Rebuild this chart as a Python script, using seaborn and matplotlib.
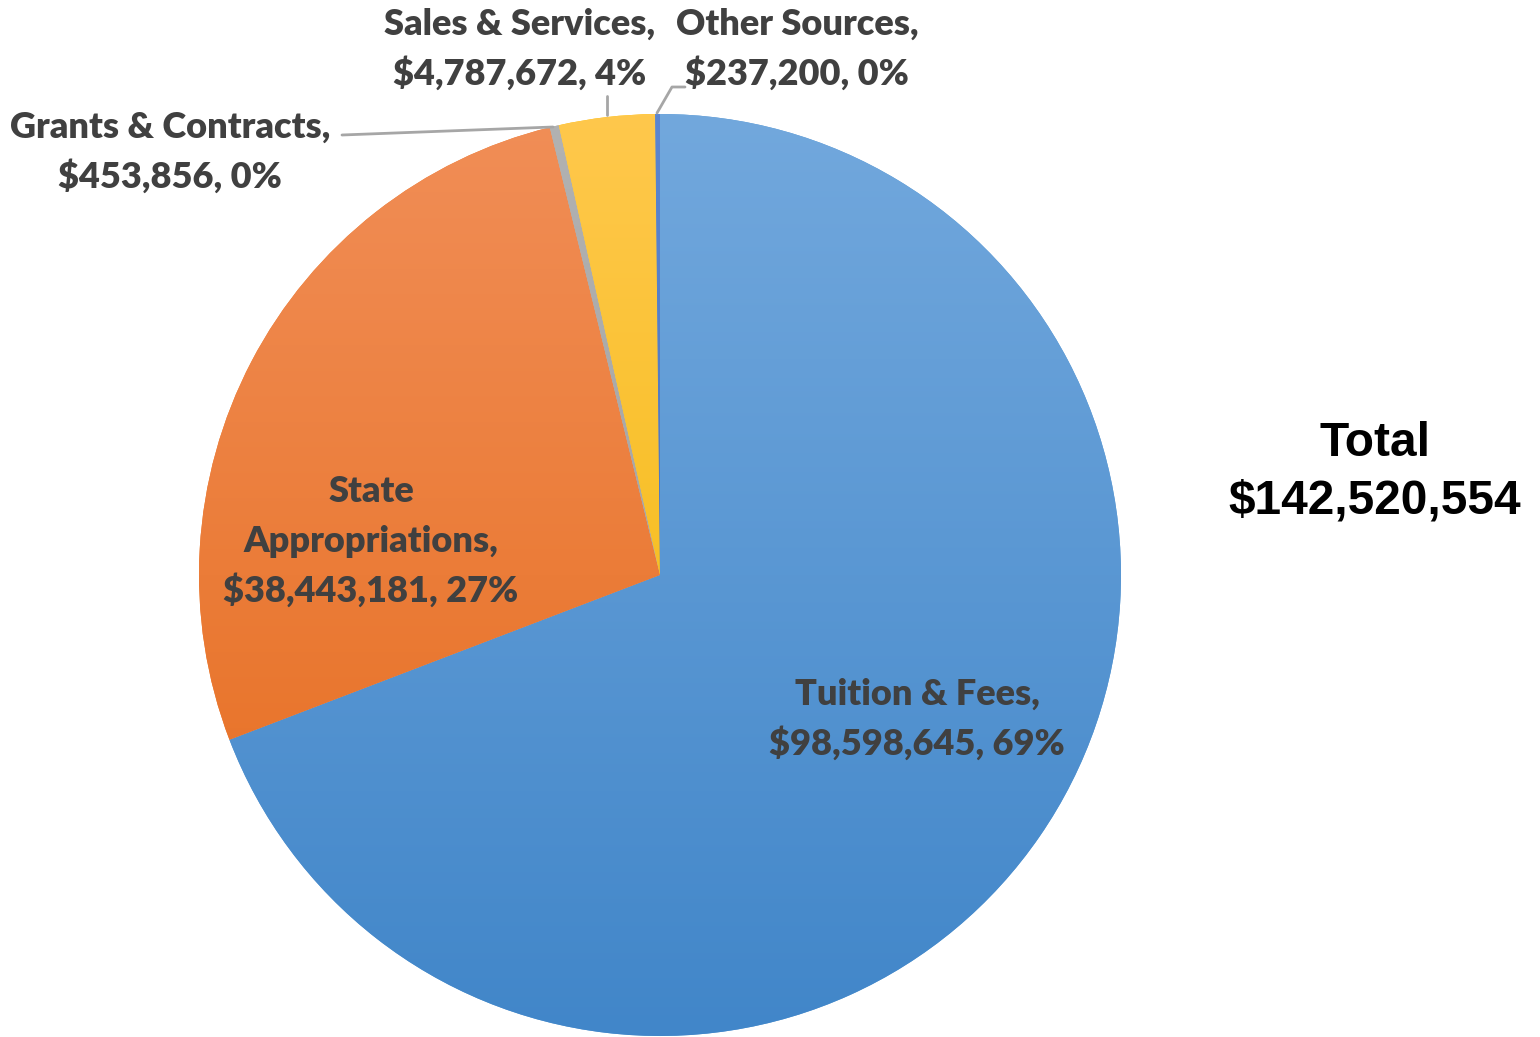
import numpy as np
import matplotlib
matplotlib.use("Agg")
import matplotlib.pyplot as plt
import matplotlib.colors as mcolors
import seaborn as sns

# Revenue sources
categories = ["Tuition & Fees", "State Appropriations", "Grants & Contracts",
              "Sales & Services", "Other Sources"]
values = [98598645, 38443181, 453856, 4787672, 237200]
label_lines = [
    ["Tuition & Fees,", "$98,598,645, 69%"],
    ["State", "Appropriations,", "$38,443,181, 27%"],
    ["Grants & Contracts,", "$453,856, 0%"],
    ["Sales & Services,", "$4,787,672, 4%"],
    ["Other Sources,", "$237,200, 0%"],
]
total_label = ["Total", "$142,520,554"]

sns.set_theme(style="white")
plt.rcParams["font.family"] = ["Lato", "DejaVu Sans"]

palette = sns.color_palette(["#5B9BD5", "#ED7D31", "#A5A5A5", "#FFC000", "#4472C4"])
# gradient end colours (top, bottom) for each slice
grad_top = ["#72A8DD", "#F18E57", "#B2B2B2", "#FFC84C", "#5C86D0"]
grad_bot = ["#4186C9", "#E56A19", "#999999", "#F0B700", "#3A66B6"]

W, H = 1540, 1037
fig = plt.figure(figsize=(W / 100, H / 100), dpi=100)
ax = fig.add_axes([0, 0, 1, 1])

cx, cy, r = 660, H - 575, 461

wedges, _ = ax.pie(values, startangle=90, counterclock=False, center=(cx, cy),
                   radius=r, colors=palette, frame=True,
                   wedgeprops=dict(linewidth=0))

# Soft vertical gradient in each wedge: lighter at top, darker at bottom
t = np.linspace(0, 1, 256)[:, None, None]
for w, c0, c1 in zip(wedges, grad_top, grad_bot):
    top = np.array(mcolors.to_rgb(c0))[None, None, :]
    bot = np.array(mcolors.to_rgb(c1))[None, None, :]
    img = np.repeat(top * (1 - t) + bot * t, 2, axis=1)
    im = ax.imshow(img, extent=(cx - r, cx + r, cy - r, cy + r), origin="upper",
                   aspect="auto", zorder=w.get_zorder() + 0.1, interpolation="bilinear")
    im.set_clip_path(w)
ax.set_xlim(0, W)
ax.set_ylim(0, H)
ax.axis("off")

lab_kw = dict(fontsize=26, fontweight="heavy", color="#404040",
              ha="center", va="center", zorder=10)
lh = 49


def put(lines, x, y_top):
    for i, s in enumerate(lines):
        ax.text(x, H - (y_top + i * lh), s, **lab_kw)


put(label_lines[0], 917, 694)
put(label_lines[1], 371, 492)
put(label_lines[2], 170, 127)
put(label_lines[3], 520, 24)
put(label_lines[4], 797, 24)

lc = "#A6A6A6"
ax.plot([342, 553], [H - 135, H - 127], color=lc, lw=2, zorder=9)
ax.plot([607, 607], [H - 96, H - 115], color=lc, lw=2, zorder=9)
ax.plot([685, 672, 657], [H - 87, H - 87, H - 113], color=lc, lw=2, zorder=9)

for i, s in enumerate(total_label):
    ax.text(1375, H - (444 + i * 57), s, fontsize=34.5, fontweight="bold",
            color="black", ha="center", va="center",
            family=["Liberation Sans", "DejaVu Sans"])

fig.savefig("out.png", dpi=100, facecolor="white")
